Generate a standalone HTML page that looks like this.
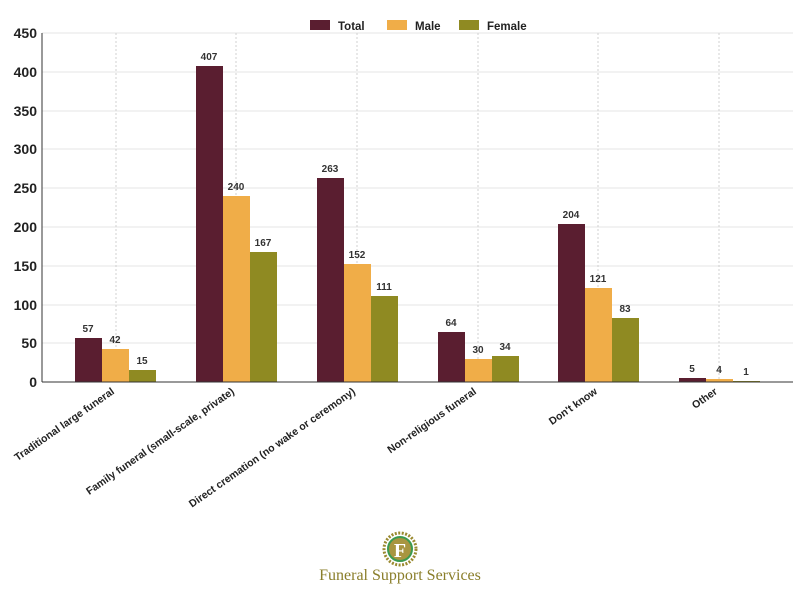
<!DOCTYPE html>
<html><head><meta charset="utf-8"><style>body{margin:0;background:#fff}svg{display:block}</style></head><body>
<svg width="800" height="594" xmlns="http://www.w3.org/2000/svg" font-family="Liberation Sans, sans-serif">
<rect width="800" height="594" fill="#fff"/>
<g stroke="#e6e6e6" stroke-width="1">
<line x1="42" y1="33" x2="793" y2="33"/><line x1="42" y1="72" x2="793" y2="72"/><line x1="42" y1="111" x2="793" y2="111"/><line x1="42" y1="149" x2="793" y2="149"/><line x1="42" y1="188" x2="793" y2="188"/><line x1="42" y1="227" x2="793" y2="227"/><line x1="42" y1="266" x2="793" y2="266"/><line x1="42" y1="305" x2="793" y2="305"/><line x1="42" y1="343" x2="793" y2="343"/>
</g>
<g stroke="#d0d0d0" stroke-dasharray="2,2">
<line x1="116" y1="33" x2="116" y2="382"/><line x1="236" y1="33" x2="236" y2="382"/><line x1="357" y1="33" x2="357" y2="382"/><line x1="478" y1="33" x2="478" y2="382"/><line x1="598" y1="33" x2="598" y2="382"/><line x1="719" y1="33" x2="719" y2="382"/>
</g>
<g font-size="14" font-weight="bold" fill="#222" text-anchor="end">
<text x="37" y="38">450</text><text x="37" y="77">400</text><text x="37" y="116">350</text><text x="37" y="154">300</text><text x="37" y="193">250</text><text x="37" y="232">200</text><text x="37" y="271">150</text><text x="37" y="310">100</text><text x="37" y="348">50</text><text x="37" y="387">0</text>
</g>
<g fill="#5a1e30">
<rect x="75" y="338" width="27" height="44"/><rect x="196" y="66" width="27" height="316"/><rect x="317" y="178" width="27" height="204"/><rect x="438" y="332" width="27" height="50"/><rect x="558" y="224" width="27" height="158"/><rect x="679" y="378" width="27" height="4"/>
</g>
<g fill="#f0ad48">
<rect x="102" y="349" width="27" height="33"/><rect x="223" y="196" width="27" height="186"/><rect x="344" y="264" width="27" height="118"/><rect x="465" y="359" width="27" height="23"/><rect x="585" y="288" width="27" height="94"/><rect x="706" y="379" width="27" height="3"/>
</g>
<g fill="#8f8a22">
<rect x="129" y="370" width="27" height="12"/><rect x="250" y="252" width="27" height="130"/><rect x="371" y="296" width="27" height="86"/><rect x="492" y="356" width="27" height="26"/><rect x="612" y="318" width="27" height="64"/><rect x="733" y="381" width="27" height="1"/>
</g>
<g font-size="10" font-weight="bold" fill="#333" text-anchor="middle">
<text x="88" y="332">57</text><text x="115" y="343">42</text><text x="142" y="364">15</text>
<text x="209" y="60">407</text><text x="236" y="190">240</text><text x="263" y="246">167</text>
<text x="330" y="172">263</text><text x="357" y="258">152</text><text x="384" y="290">111</text>
<text x="451" y="326">64</text><text x="478" y="353">30</text><text x="505" y="350">34</text>
<text x="571" y="218">204</text><text x="598" y="282">121</text><text x="625" y="312">83</text>
<text x="692" y="372">5</text><text x="719" y="373">4</text><text x="746" y="375">1</text>
</g>
<line x1="42" y1="33" x2="42" y2="382" stroke="#333"/>
<line x1="42" y1="382" x2="793" y2="382" stroke="#333"/>
<g font-size="10.5" font-weight="bold" fill="#222" text-anchor="end">
<text transform="translate(115,393) rotate(-35)">Traditional large funeral</text>
<text transform="translate(235,393) rotate(-35)">Family funeral (small-scale, private)</text>
<text transform="translate(356,393) rotate(-35)">Direct cremation (no wake or ceremony)</text>
<text transform="translate(477,393) rotate(-35)">Non-religious funeral</text>
<text transform="translate(598,393) rotate(-35)">Don't know</text>
<text transform="translate(718,393) rotate(-35)">Other</text>
</g>
<g font-size="11.5" font-weight="bold" fill="#222">
<rect x="310" y="20" width="20" height="10" fill="#5a1e30"/><text x="338" y="30">Total</text>
<rect x="387" y="20" width="20" height="10" fill="#f0ad48"/><text x="415" y="30">Male</text>
<rect x="459" y="20" width="20" height="10" fill="#8f8a22"/><text x="487" y="30">Female</text>
</g>
<circle cx="400" cy="549" r="16" fill="none" stroke="#9a8a30" stroke-width="3" stroke-dasharray="2,1.5"/>
<circle cx="400" cy="549" r="12" fill="#a89540" stroke="#3c9a50" stroke-width="2"/>
<text x="400" y="557" font-family="Liberation Serif, serif" font-size="20" font-weight="bold" fill="#fff" text-anchor="middle">F</text>
<text x="400" y="580" font-family="Liberation Serif, serif" font-size="16" fill="#8a7e2a" text-anchor="middle">Funeral Support Services</text>
</svg>
</body></html>
